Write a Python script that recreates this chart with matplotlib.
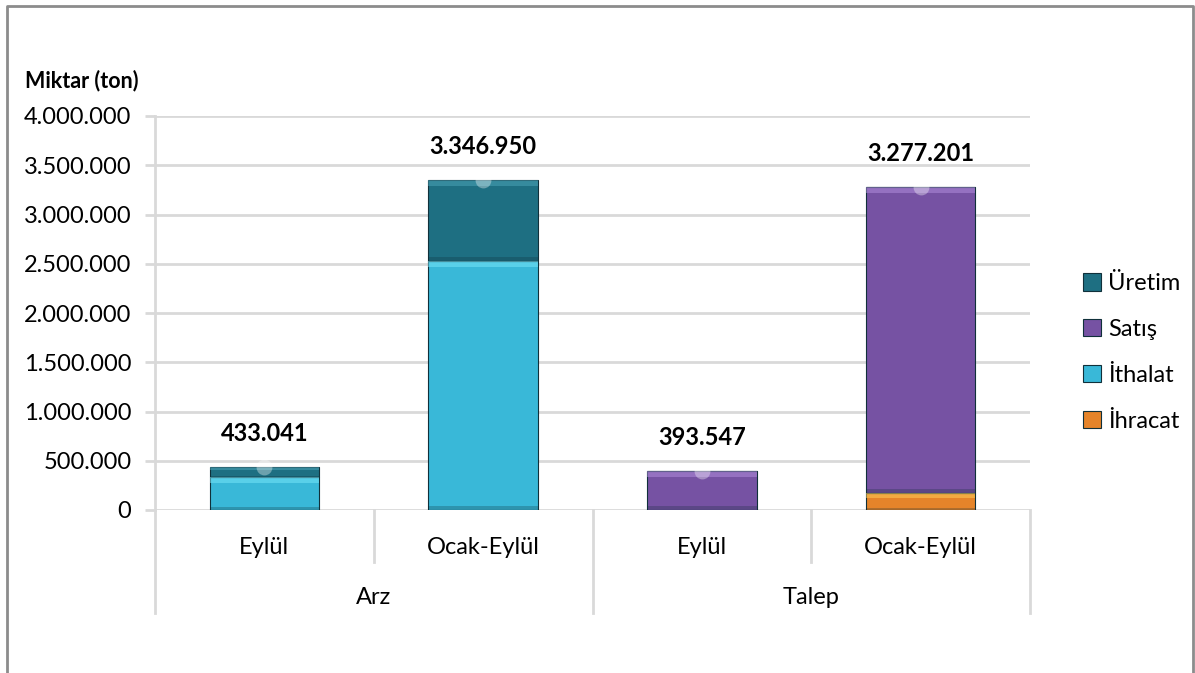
import numpy as np
import matplotlib
matplotlib.use("Agg")
import matplotlib.pyplot as plt
from matplotlib.patches import Rectangle
from matplotlib.ticker import FuncFormatter

plt.rcParams['font.family'] = ['Lato', 'DejaVu Sans']

# data (tonnes)
groups = ["Arz", "Talep"]
periods = ["Eylül", "Ocak-Eylül", "Eylül", "Ocak-Eylül"]
ithalat = [340000, 2530000, 0, 0]
uretim = [93041, 816950, 0, 0]
ihracat = [0, 0, 0, 175000]
satis = [0, 0, 393547, 3102201]
totals = [433041, 3346950, 393547, 3277201]

colors = {
    "Üretim": "#1e6f82",
    "Satış": "#7652a3",
    "İthalat": "#39b8d8",
    "İhracat": "#e5842a",
}
light = {
    "Üretim": "#4fa7bb",
    "Satış": "#b490e0",
    "İthalat": "#7ae8fb",
    "İhracat": "#ffd15a",
}


def dots(v, pos=None):
    return f"{int(v):,}".replace(",", ".")


fig = plt.figure(figsize=(11.95, 6.73), dpi=100)
ax = fig.add_axes([155 / 1195, 1 - 510 / 673, 875 / 1195, 394 / 673])

x = np.arange(len(periods))
w = 0.5
ymax = 4000000
px = ymax / 394.0  # data units per pixel

# stacking order bottom -> top, as in the original
stack = [("İhracat", ihracat), ("İthalat", ithalat), ("Satış", satis), ("Üretim", uretim)]
bottom = np.zeros(len(x))
handles = {}
for name, vals in stack:
    vals = np.array(vals, dtype=float)
    b = ax.bar(x, vals, w, bottom=bottom, color=colors[name],
               edgecolor="#10303a", linewidth=0.8, zorder=3)
    handles[name] = b
    # bevel strips: light on top, dark on bottom
    for xi, v, b0 in zip(x, vals, bottom):
        if v <= 0:
            continue
        strip = min(6 * px, v * 0.3)
        ax.add_patch(Rectangle((xi - w / 2, b0 + v - strip), w, strip,
                               facecolor=light[name], edgecolor="none", alpha=0.5, zorder=4))
        ax.add_patch(Rectangle((xi - w / 2, b0), w, min(4 * px, v * 0.1),
                               facecolor="#0b2a33", edgecolor="none", alpha=0.25, zorder=4))
    bottom += vals

# faint markers at the totals + bold value labels
ax.scatter(x, totals, s=130, color="white", alpha=0.35, zorder=5, linewidths=0)
for xi, t in zip(x, totals):
    ax.text(xi, t + 34 * px, dots(t), ha="center", va="center",
            fontsize=17, fontweight="bold", color="black", zorder=6)

ax.set_xlim(-0.5, len(x) - 0.5)
ax.set_ylim(0, ymax)
ax.set_yticks(np.arange(0, ymax + 1, 500000))
ax.yaxis.set_major_formatter(FuncFormatter(dots))
ax.tick_params(axis="y", labelsize=17, length=7, width=2, color="#d9d9d9", pad=10)
ax.tick_params(axis="x", bottom=False, labelbottom=False)
ax.grid(axis="y", color="#d9d9d9", linewidth=2, zorder=0)
for s in ["top", "right", "bottom"]:
    ax.spines[s].set_visible(False)
ax.spines["left"].set_color("#d9d9d9")
ax.spines["left"].set_linewidth(2)

# two-level category axis
trans = ax.get_xaxis_transform()
for xb in [-0.5, 1.5, 3.5]:
    ax.plot([xb, xb], [0, -103 / 394], color="#d9d9d9", lw=2, transform=trans, clip_on=False)
for xb in [0.5, 2.5]:
    ax.plot([xb, xb], [0, -52 / 394], color="#d9d9d9", lw=2, transform=trans, clip_on=False)
for xi, p in zip(x, periods):
    ax.text(xi, -38 / 394, p, ha="center", va="center", fontsize=17, transform=trans)
for gi, g in enumerate(groups):
    ax.text(gi * 2 + 0.5, -88 / 394, g, ha="center", va="center", fontsize=17, transform=trans)

fig.text(25 / 1195, 1 - 81 / 673, "Miktar (ton)", fontsize=15.5, fontweight="bold", va="center")

order = ["Üretim", "Satış", "İthalat", "İhracat"]
fig.legend([handles[n] for n in order], order, loc="upper left",
           bbox_to_anchor=(1062 / 1195, 1 - 252 / 673), frameon=False,
           fontsize=17, handlelength=0.75, handleheight=0.75, handletextpad=0.3,
           labelspacing=1.05)

# outer chart border
fig.add_artist(plt.Line2D([7 / 1195, 7 / 1195, 1193 / 1195, 1193 / 1195],
                          [0, 1 - 6 / 673, 1 - 6 / 673, 0],
                          transform=fig.transFigure, color="#8c8c8c", lw=2))

fig.savefig("out.png", dpi=100)
